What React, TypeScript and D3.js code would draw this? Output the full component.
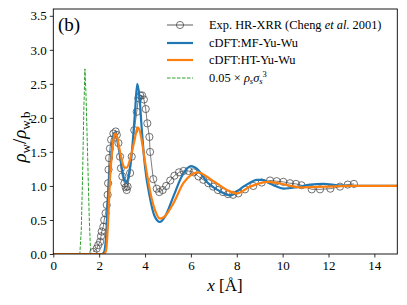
import React, { useEffect, useRef } from 'react'
import * as d3 from 'd3'

// experimental HR-XRR points (x in Angstrom, normalised density)
const expX = [1.75, 1.89, 1.96, 2.04, 2.08, 2.11, 2.18, 2.22, 2.28, 2.33, 2.37, 2.39, 2.41, 2.43, 2.47, 2.52, 2.62, 2.72, 2.77, 2.84, 2.91, 2.95, 3.01, 3.1, 3.16, 3.2, 3.24, 3.35, 3.42, 3.53, 3.64, 3.71, 3.79, 3.87, 3.95, 4.03, 4.1, 4.19, 4.22, 4.36, 4.51, 4.62, 4.77, 4.92, 5.1, 5.28, 5.48, 5.68, 5.9, 6.12, 6.33, 6.54, 6.76, 6.97, 7.18, 7.4, 7.62, 7.84, 8.07, 8.36, 8.72, 9.09, 9.45, 9.74, 10.03, 10.32, 10.58, 10.82, 11.27, 11.63, 12.08, 12.5, 12.84, 13.11]
const expY = [0.03, 0.08, 0.13, 0.18, 0.26, 0.33, 0.4, 0.5, 0.6, 0.72, 0.87, 1.04, 1.24, 1.41, 1.55, 1.68, 1.77, 1.8, 1.75, 1.63, 1.43, 1.26, 1.14, 1.04, 0.98, 0.94, 0.99, 1.19, 1.43, 1.82, 2.09, 2.29, 2.33, 2.33, 2.27, 2.13, 1.92, 1.72, 1.5, 1.1, 0.96, 0.91, 0.94, 1.0, 1.08, 1.15, 1.2, 1.22, 1.22, 1.2, 1.14, 1.09, 1.04, 0.99, 0.94, 0.91, 0.88, 0.87, 0.89, 0.95, 1.0, 1.05, 1.08, 1.07, 1.06, 1.04, 1.03, 1.01, 0.95, 0.95, 0.96, 0.99, 1.02, 1.03]

// cDFT MF-Yu-Wu
const mfX = [0, 2.1, 2.2, 2.3, 2.4, 2.5, 2.58, 2.66, 2.75, 2.84, 2.98, 3.1, 3.2, 3.3, 3.42, 3.56, 3.66, 3.76, 3.85, 4.0, 4.2, 4.4, 4.65, 4.87, 5.23, 5.6, 6.0, 6.3, 6.69, 7.27, 7.7, 8.29, 8.9, 9.1, 9.6, 10.05, 10.6, 11.2, 11.77, 12.4, 12.9, 14, 15]
const mfY = [0, 0, 0.02, 0.25, 0.94, 1.35, 1.65, 1.78, 1.72, 1.58, 1.28, 1.09, 1.05, 1.18, 1.48, 2.07, 2.5, 2.3, 1.87, 1.28, 0.85, 0.57, 0.47, 0.55, 0.84, 1.14, 1.29, 1.24, 1.06, 0.92, 0.86, 0.99, 1.09, 1.09, 1.01, 0.96, 0.98, 1.02, 1.03, 1.01, 1.0, 1.0, 1.0]

// cDFT HT-Yu-Wu
const htX = [0, 2.2, 2.3, 2.4, 2.47, 2.55, 2.62, 2.69, 2.78, 2.91, 3.0, 3.1, 3.2, 3.34, 3.46, 3.56, 3.67, 3.76, 3.88, 4.0, 4.15, 4.3, 4.45, 4.65, 4.85, 5.23, 5.67, 6.0, 6.3, 6.98, 7.7, 8.0, 8.58, 9.35, 9.85, 10.76, 11.9, 13, 15]
const htY = [0, 0, 0.05, 0.55, 1.09, 1.45, 1.68, 1.77, 1.72, 1.5, 1.36, 1.27, 1.27, 1.38, 1.55, 1.7, 1.86, 1.82, 1.62, 1.35, 1.05, 0.8, 0.63, 0.52, 0.55, 0.74, 1.04, 1.16, 1.2, 1.07, 0.92, 0.89, 0.99, 1.06, 1.04, 0.98, 0.99, 1.0, 1.0]

// 0.05 x rho_s sigma_s^3
const solX = [0, 1.12, 1.16, 1.22, 1.28, 1.33, 1.38, 1.43, 1.5, 1.57, 1.62, 1.66, 1.8]
const solY = [0, 0, 0.02, 0.35, 1.2, 2.1, 2.72, 2.3, 1.4, 0.5, 0.08, 0, 0]

const xTicks = [0, 2, 4, 6, 8, 10, 12, 14]
const yTicks = [0, 0.5, 1, 1.5, 2, 2.5, 3, 3.5]

const legendLabels = ['Exp. HR-XRR (Cheng et al. 2001)', 'cDFT:MF-Yu-Wu', 'cDFT:HT-Yu-Wu', '0.05 × ρsσs3']

const FONT = '"Liberation Serif", "DejaVu Serif", serif'

export default function App() {
  const svgRef = useRef<SVGSVGElement>(null)

  useEffect(() => {
    const svg = d3.select(svgRef.current)
    svg.selectAll('*').remove()

    const x = d3.scaleLinear().domain([0, 15]).range([53.3, 397.3])
    const y = d3.scaleLinear().domain([0, 3.6]).range([254, 9])

    const mk = (xs: number[], ys: number[]) => xs.map((v, i) => [v, ys[i]] as [number, number])
    const smooth = d3.line<[number, number]>().x(d => x(d[0])).y(d => y(d[1])).curve(d3.curveMonotoneX)
    const straight = d3.line<[number, number]>().x(d => x(d[0])).y(d => y(d[1]))

    const plot = svg.append('g')
    plot.append('defs').append('clipPath').attr('id', 'clip')
      .append('rect').attr('x', 53.3).attr('y', 9).attr('width', 344).attr('height', 245)
    const g = plot.append('g').attr('clip-path', 'url(#clip)')

    // solid density (green dashed)
    g.append('path').attr('d', straight(mk(solX, solY)))
      .attr('fill', 'none').attr('stroke', '#2ca02c').attr('stroke-width', 1)
      .attr('stroke-dasharray', '3.5,1.5')

    // experiment
    const ed = mk(expX, expY)
    g.append('path').attr('d', straight(ed))
      .attr('fill', 'none').attr('stroke', '#333').attr('stroke-width', 0.8).attr('stroke-opacity', 0.8)
    g.selectAll('circle.exp').data(ed).join('circle').attr('class', 'exp')
      .attr('cx', d => x(d[0])).attr('cy', d => y(d[1])).attr('r', 3.6)
      .attr('fill', 'none').attr('stroke', '#444').attr('stroke-width', 1).attr('stroke-opacity', 0.75)

    g.append('path').attr('d', smooth(mk(mfX, mfY)))
      .attr('fill', 'none').attr('stroke', '#1f77b4').attr('stroke-width', 2.2)
    g.append('path').attr('d', smooth(mk(htX, htY)))
      .attr('fill', 'none').attr('stroke', '#ff7f0e').attr('stroke-width', 2.2)

    // frame
    svg.append('rect').attr('x', 53.3).attr('y', 9).attr('width', 344).attr('height', 245)
      .attr('fill', 'none').attr('stroke', '#000').attr('stroke-width', 0.9)

    const xAxis = svg.append('g').attr('transform', 'translate(0,254)')
      .call(d3.axisBottom(x).tickValues(xTicks).tickFormat(d3.format('d')).tickSize(3.5).tickPadding(3))
    const yAxis = svg.append('g').attr('transform', 'translate(53.3,0)')
      .call(d3.axisLeft(y).tickValues(yTicks).tickFormat(d3.format('.1f')).tickSize(3.5).tickPadding(3))
    ;[xAxis, yAxis].forEach(a => {
      a.select('.domain').remove()
      a.selectAll('line').attr('stroke', '#000').attr('stroke-width', 0.8)
      a.selectAll('text').attr('font-family', FONT).attr('font-size', 13).attr('fill', '#000')
    })

    // axis labels
    const xl = svg.append('text').attr('x', 225).attr('y', 291).attr('text-anchor', 'middle')
      .attr('font-family', FONT).attr('font-size', 17)
    xl.append('tspan').attr('font-style', 'italic').text('x')
    xl.append('tspan').text(' [Å]')

    const yl = svg.append('text').attr('transform', 'translate(26,137) rotate(-90)')
      .attr('text-anchor', 'middle').attr('font-family', FONT).attr('font-size', 19)
    yl.append('tspan').attr('font-style', 'italic').text('ρ')
    yl.append('tspan').attr('font-size', 13).attr('dy', 4).text('w')
    yl.append('tspan').attr('dy', -4).text('/')
    yl.append('tspan').attr('font-style', 'italic').text('ρ')
    yl.append('tspan').attr('font-size', 13).attr('dy', 4).text('w,b')

    svg.append('text').attr('x', 58).attr('y', 31).attr('font-family', FONT).attr('font-size', 19).text('(b)')

    // legend
    const ly = [25, 43, 60, 78]
    const lg = svg.append('g').attr('font-family', FONT).attr('font-size', 12.4)
    lg.append('line').attr('x1', 167).attr('x2', 193).attr('y1', ly[0]).attr('y2', ly[0])
      .attr('stroke', '#333').attr('stroke-width', 0.8)
    lg.append('circle').attr('cx', 180).attr('cy', ly[0]).attr('r', 3.6)
      .attr('fill', 'none').attr('stroke', '#444').attr('stroke-opacity', 0.75)
    lg.append('line').attr('x1', 167).attr('x2', 193).attr('y1', ly[1]).attr('y2', ly[1])
      .attr('stroke', '#1f77b4').attr('stroke-width', 2.2)
    lg.append('line').attr('x1', 167).attr('x2', 193).attr('y1', ly[2]).attr('y2', ly[2])
      .attr('stroke', '#ff7f0e').attr('stroke-width', 2.2)
    lg.append('line').attr('x1', 167).attr('x2', 193).attr('y1', ly[3]).attr('y2', ly[3])
      .attr('stroke', '#2ca02c').attr('stroke-width', 1).attr('stroke-dasharray', '3.5,1.5')

    const t0 = lg.append('text').attr('x', 209).attr('y', ly[0] + 4)
    t0.append('tspan').text('Exp. HR-XRR (Cheng ')
    t0.append('tspan').attr('font-style', 'italic').text('et al')
    t0.append('tspan').text('. 2001)')
    lg.append('text').attr('x', 209).attr('y', ly[1] + 4).text(legendLabels[1])
    lg.append('text').attr('x', 209).attr('y', ly[2] + 4).text(legendLabels[2])
    const t3 = lg.append('text').attr('x', 209).attr('y', ly[3] + 4)
    t3.append('tspan').text('0.05 × ')
    t3.append('tspan').attr('font-style', 'italic').text('ρ')
    t3.append('tspan').attr('font-size', 8.5).attr('dy', 2).attr('font-style', 'italic').text('s')
    t3.append('tspan').attr('dy', -2).attr('font-style', 'italic').text('σ')
    t3.append('tspan').attr('font-size', 8.5).attr('dy', 2).attr('font-style', 'italic').text('s')
    t3.append('tspan').attr('font-size', 8.5).attr('dy', -7).text('3')
  }, [])

  return (
    <div>
      <svg ref={svgRef} width={407} height={305} style={{ position: 'absolute', left: 0, top: 0 }} />
    </div>
  )
}
